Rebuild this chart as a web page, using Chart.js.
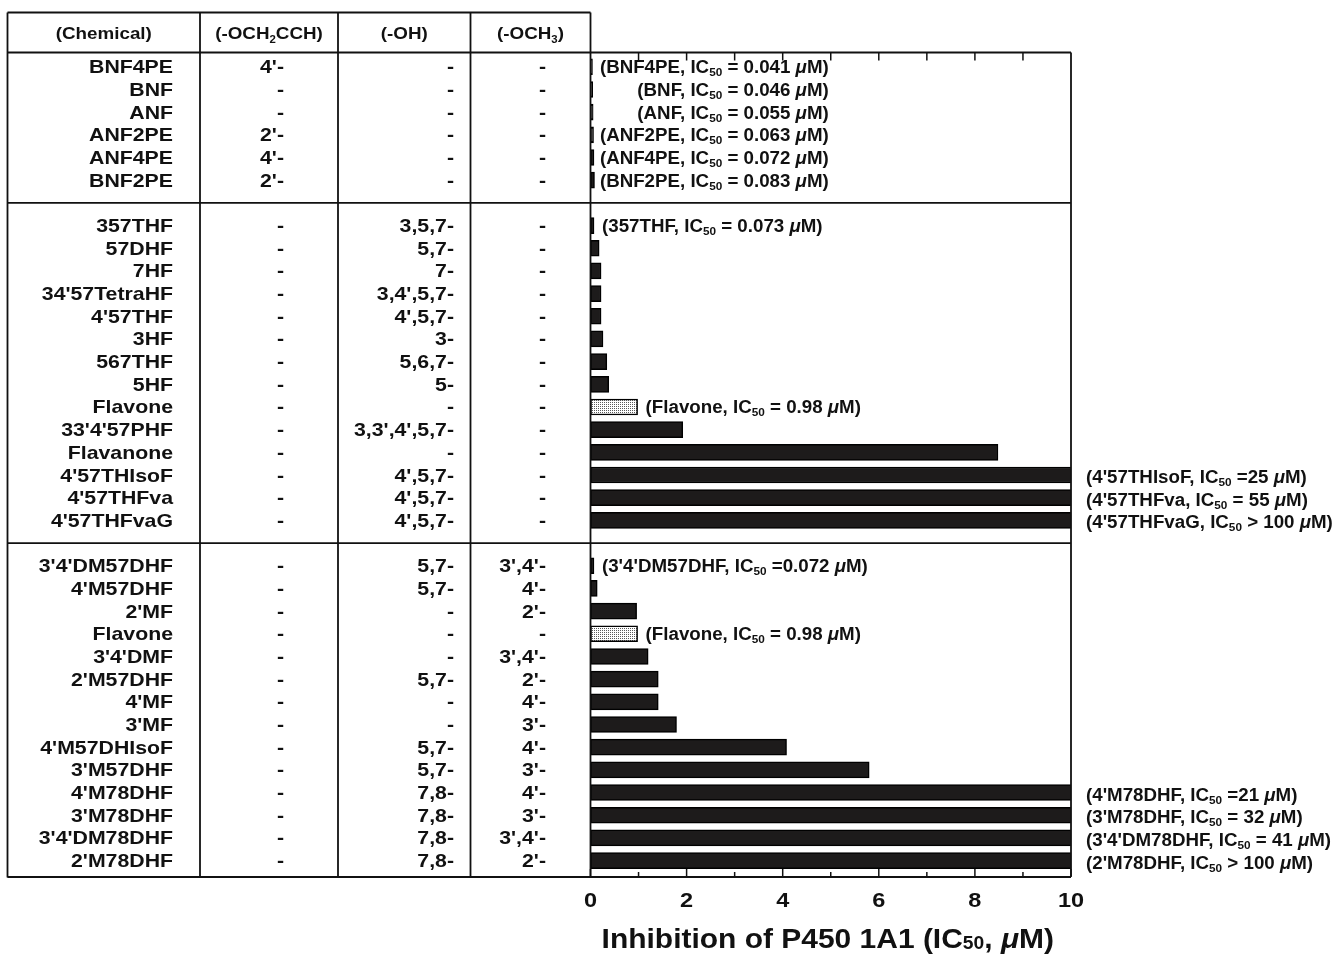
<!DOCTYPE html>
<html>
<head>
<meta charset="utf-8">
<script src="https://cdn.jsdelivr.net/npm/chart.js@4"></script>
<style>
  html, body { margin: 0; padding: 0; background: #fff; }
  canvas { display: block; }
</style>
</head>
<body>
<canvas id="c" width="1338" height="956" style="width:1338px;height:956px"></canvas>
<script>
// Compounds grouped in three blocks: naphthoflavones, hydroxyflavones, methoxyflavones
const sectionSizes = [6, 14, 14];

const compounds = [
  'BNF4PE', 'BNF', 'ANF', 'ANF2PE', 'ANF4PE', 'BNF2PE',
  '357THF', '57DHF', '7HF', "34'57TetraHF", "4'57THF", '3HF', '567THF', '5HF',
  'Flavone', "33'4'57PHF", 'Flavanone', "4'57THIsoF", "4'57THFva", "4'57THFvaG",
  "3'4'DM57DHF", "4'M57DHF", "2'MF", 'Flavone', "3'4'DMF", "2'M57DHF", "4'MF",
  "3'MF", "4'M57DHIsoF", "3'M57DHF", "4'M78DHF", "3'M78DHF", "3'4'DM78DHF", "2'M78DHF"
];

// Substituent positions: propargyl ether (-OCH2CCH), hydroxy (-OH), methoxy (-OCH3)
const propargylPos = [
  "4'-", '-', '-', "2'-", "4'-", "2'-",
  '-', '-', '-', '-', '-', '-', '-', '-', '-', '-', '-', '-', '-', '-',
  '-', '-', '-', '-', '-', '-', '-', '-', '-', '-', '-', '-', '-', '-'
];
const hydroxyPos = [
  '-', '-', '-', '-', '-', '-',
  '3,5,7-', '5,7-', '7-', "3,4',5,7-", "4',5,7-", '3-', '5,6,7-', '5-',
  '-', "3,3',4',5,7-", '-', "4',5,7-", "4',5,7-", "4',5,7-",
  '5,7-', '5,7-', '-', '-', '-', '5,7-', '-', '-', '5,7-', '5,7-',
  '7,8-', '7,8-', '7,8-', '7,8-'
];
const methoxyPos = [
  '-', '-', '-', '-', '-', '-',
  '-', '-', '-', '-', '-', '-', '-', '-', '-', '-', '-', '-', '-', '-',
  "3',4'-", "4'-", "2'-", '-', "3',4'-", "2'-", "4'-", "3'-", "4'-", "3'-",
  "4'-", "3'-", "3',4'-", "2'-"
];

// IC50 toward P450 1A1, uM
const ic50Values = [
  0.041, 0.046, 0.055, 0.063, 0.072, 0.083,
  0.073, 0.18, 0.22, 0.22, 0.22, 0.26, 0.34, 0.38, 0.98, 1.92, 8.48, 25, 55, 100,
  0.072, 0.14, 0.96, 0.98, 1.2, 1.41, 1.41, 1.79, 4.08, 5.8, 21, 32, 41, 100
];
// Printed annotations (null = no annotation)
const ic50Notes = [
  '= 0.041', '= 0.046', '= 0.055', '= 0.063', '= 0.072', '= 0.083',
  '= 0.073', null, null, null, null, null, null, null, '= 0.98', null, null, '=25', '= 55', '> 100',
  '=0.072', null, null, '= 0.98', null, null, null, null, null, null, '=21', '= 32', '= 41', '> 100'
];

const xTicks = [0, 2, 4, 6, 8, 10];
const xMax = 10;

// ---- rows with a blank spacer row between blocks ----
const rowLabels = [], rowValues = [], rowSource = [], spacerRows = [], rowBlock = [];
let k = 0;
sectionSizes.forEach((n, s) => {
  if (s > 0) { spacerRows.push(rowLabels.length); rowLabels.push(''); rowValues.push(null); rowSource.push(-1); rowBlock.push(-1); }
  for (let i = 0; i < n; i++, k++) {
    rowLabels.push(compounds[k]); rowValues.push(ic50Values[k]); rowSource.push(k); rowBlock.push(s);
  }
});
const rowCount = rowLabels.length;

const FAM = '"Liberation Sans", Arial, Helvetica, sans-serif';
const INK = '#111';

// stippled fill for the parent flavone
function stipple() {
  const p = document.createElement('canvas');
  p.width = 2; p.height = 2;
  const g = p.getContext('2d');
  g.fillStyle = '#fff'; g.fillRect(0, 0, 2, 2);
  g.fillStyle = '#5a5a5a'; g.fillRect(0, 0, 1, 1);
  return g.createPattern(p, 'repeat');
}

function drawRich(ctx, segs, x, y, align, sx) {
  let total = 0;
  segs.forEach(s => { ctx.font = s.font; s.w = ctx.measureText(s.t).width * sx; total += s.w; });
  let cx = align === 'right' ? x - total : align === 'center' ? x - total / 2 : x;
  ctx.textAlign = 'left';
  ctx.textBaseline = 'alphabetic';
  segs.forEach(s => {
    ctx.font = s.font;
    ctx.save();
    ctx.translate(cx, y + (s.dy || 0));
    ctx.scale(sx, 1);
    ctx.fillText(s.t, 0, 0);
    ctx.restore();
    cx += s.w;
  });
}

function ic50Segs(name, note, size) {
  const f = `bold ${size}px ${FAM}`;
  return [
    { t: `(${name}, IC`, font: f },
    { t: '50', font: `bold ${Math.round(size * 0.62)}px ${FAM}`, dy: 3 },
    { t: ` ${note} `, font: f },
    { t: 'μ', font: `italic bold ${size}px ${FAM}` },
    { t: 'M)', font: f }
  ];
}

const colEdges = [7.5, 200, 338, 470.5];   // table column borders left of the plot
const tableTop = 12.5;

const tablePlugin = {
  id: 'tableFrame',
  beforeDraw(chart) {
    const { ctx, width, height } = chart;
    ctx.save(); ctx.fillStyle = '#fff'; ctx.fillRect(0, 0, width, height); ctx.restore();
  },
  afterDatasetsDraw(chart) {
    const { ctx, chartArea: a, scales: { x, y } } = chart;
    ctx.save();
    ctx.strokeStyle = INK;
    ctx.fillStyle = INK;
    ctx.lineWidth = 1.8;
    const line = (x1, y1, x2, y2) => { ctx.beginPath(); ctx.moveTo(x1, y1); ctx.lineTo(x2, y2); ctx.stroke(); };

    // table frame
    line(colEdges[0], tableTop, a.left, tableTop);
    colEdges.forEach(cx => line(cx, tableTop, cx, a.bottom + 1.5));
    line(a.left, tableTop, a.left, a.bottom + 1.5);
    line(colEdges[0], a.top, a.right, a.top);
    line(colEdges[0], a.bottom + 1, a.right, a.bottom + 1);
    line(a.right, a.top, a.right, a.bottom + 1);
    spacerRows.forEach(r => { const py = y.getPixelForValue(r); line(colEdges[0], py, a.right, py); });

    // axis ticks (inside the plot)
    ctx.lineWidth = 1.5;
    for (let v = 0; v <= xMax; v++) {
      const px = x.getPixelForValue(v);
      if (v > 0 && v < xMax) line(px, a.top, px, a.top + 8);
      line(px, a.bottom, px, a.bottom - (v % 2 === 0 ? 7 : 4));
    }

    // header row
    const hy = 38.5;
    const hf = `bold 16.5px ${FAM}`, hs = `bold 10px ${FAM}`;
    const hsx = 1.14;
    drawRich(ctx, [{ t: '(Chemical)', font: hf }], (colEdges[0] + colEdges[1]) / 2, hy, 'center', hsx);
    drawRich(ctx, [{ t: '(-OCH', font: hf }, { t: '2', font: hs, dy: 4 }, { t: 'CCH)', font: hf }], (colEdges[1] + colEdges[2]) / 2, hy, 'center', hsx);
    drawRich(ctx, [{ t: '(-OH)', font: hf }], (colEdges[2] + colEdges[3]) / 2, hy, 'center', hsx);
    drawRich(ctx, [{ t: '(-OCH', font: hf }, { t: '3', font: hs, dy: 4 }, { t: ')', font: hf }], (colEdges[3] + a.left) / 2, hy, 'center', hsx);

    // table body
    const bf = `bold 18.5px ${FAM}`;
    const bsx = 1.15;
    rowSource.forEach((src, r) => {
      if (src < 0) return;
      const py = y.getPixelForValue(r) + 6.5;
      drawRich(ctx, [{ t: compounds[src], font: bf }], 173, py, 'right', bsx);
      drawRich(ctx, [{ t: propargylPos[src], font: bf }], 284, py, 'right', bsx);
      drawRich(ctx, [{ t: hydroxyPos[src], font: bf }], 454, py, 'right', bsx);
      drawRich(ctx, [{ t: methoxyPos[src], font: bf }], 546, py, 'right', bsx);
    });

    // IC50 annotations
    rowSource.forEach((src, r) => {
      if (src < 0 || !ic50Notes[src]) return;
      const py = y.getPixelForValue(r) + 6.5;
      const segs = ic50Segs(compounds[src], ic50Notes[src], 17.5);
      const v = ic50Values[src];
      if (v > xMax) drawRich(ctx, segs, a.right + 15, py + 1.5, 'left', 1.07);
      else if (rowBlock[r] === 0) drawRich(ctx, segs, x.getPixelForValue(5) - 2, py, 'right', 1.07);
      else drawRich(ctx, segs, x.getPixelForValue(v) + 8, py, 'left', 1.07);
    });

    // tick labels
    xTicks.forEach(v => {
      drawRich(ctx, [{ t: String(v), font: `bold 21px ${FAM}` }], x.getPixelForValue(v), 907, 'center', 1.12);
    });

    // axis title
    const tf = `bold 28px ${FAM}`;
    drawRich(ctx, [
      { t: 'Inhibition of P450 1A1 (IC', font: tf },
      { t: '50', font: `bold 18px ${FAM}`, dy: 1 },
      { t: ', ', font: tf },
      { t: 'μ', font: `italic bold 28px ${FAM}` },
      { t: 'M)', font: tf }
    ], (a.left + a.right) / 2 - 3, 948, 'center', 1.07);

    ctx.restore();
  }
};

const ctx = document.getElementById('c').getContext('2d');
const flavoneFill = stipple();

new Chart(ctx, {
  type: 'bar',
  data: {
    datasets: [{
      data: rowValues.map((v, i) => ({ x: v, y: i })),
      backgroundColor: rowLabels.map(n => n === 'Flavone' ? flavoneFill : '#1d1b1b'),
      borderColor: '#000',
      borderWidth: 1.5,
      borderSkipped: false,
      barThickness: 16,
      clip: 0
    }]
  },
  options: {
    indexAxis: 'y',
    responsive: false,
    animation: false,
    events: [],
    layout: { padding: { left: 590.5, right: 267, top: 52.5, bottom: 80 } },
    plugins: { legend: { display: false }, tooltip: { enabled: false } },
    scales: {
      x: { type: 'linear', min: 0, max: xMax, display: false },
      // row index axis, top to bottom, with a little more room under the last row
      y: { type: 'linear', reverse: true, offset: false, min: -0.63, max: rowCount - 1 + 0.68, display: false }
    }
  },
  plugins: [tablePlugin]
});
</script>
</body>
</html>
